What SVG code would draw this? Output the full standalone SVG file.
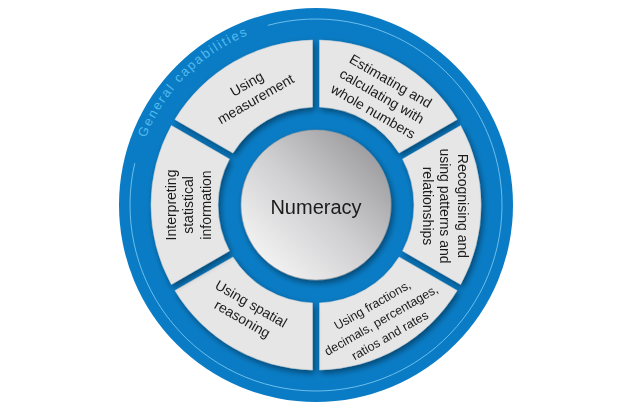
<svg xmlns="http://www.w3.org/2000/svg" xmlns:xlink="http://www.w3.org/1999/xlink" width="641" height="410" viewBox="0 0 641 410">
  <defs>
    <style>
      .seg { fill: #e6e6e6; stroke: #cfcfcf; stroke-width: 0.5; }
      .lbl { font-family: "Liberation Sans", Arial, sans-serif; font-size: 14px; fill: #1a1a1a; text-anchor: middle; }
      .small { font-size: 12.5px; }
      .title { font-family: "Liberation Sans", Arial, sans-serif; font-size: 20px; fill: #1a1a1a; text-anchor: middle; }
      .gc { font-family: "Liberation Sans", Arial, sans-serif; font-size: 13px; fill: #52bbed; letter-spacing: 1.8px; }
    </style>
    <filter id="sh" x="-20%" y="-20%" width="140%" height="140%">
      <feGaussianBlur in="SourceAlpha" stdDeviation="3"/>
      <feOffset dx="2" dy="3" result="b"/>
      <feComponentTransfer><feFuncA type="linear" slope="0.45"/></feComponentTransfer>
      <feMerge><feMergeNode/><feMergeNode in="SourceGraphic"/></feMerge>
    </filter>
    <linearGradient id="core" x1="1" y1="0" x2="0" y2="1">
      <stop offset="0" stop-color="#8c8c90"/>
      <stop offset="0.5" stop-color="#cfcfd1"/>
      <stop offset="1" stop-color="#ffffff"/>
    </linearGradient>
    <path id="gcPath" d="M145.73,137.93 A183,183 0 0,1 300.05,22.70"/>
  </defs>

  <g id="ring">
    <circle cx="316" cy="205" r="197" fill="#0a7cc5"/>
    <path d="M267.86,25.34 A186,186 0 1,1 134.77,163.16" fill="none" stroke="#7cc9f2" stroke-width="1" opacity="0.85"/>
    <text class="gc"><textPath href="#gcPath" xlink:href="#gcPath">General capabilities</textPath></text>
  </g>

  <g id="connectors"></g>

  <g id="seg-measurement" filter="url(#sh)">
    <path class="seg" d="M312.5,40.04 A165,165 0 0,0 174.89,119.49 L232.93,153 A98,98 0 0,1 312.5,107.06 Z"/>
    <g transform="translate(251,91) rotate(-30)">
      <text class="lbl" x="0" y="-3.5">Using</text>
      <text class="lbl" x="0" y="14">measurement</text>
    </g>
  </g>

  <g id="seg-estimating" filter="url(#sh)">
    <path class="seg" d="M319.5,40.04 A165,165 0 0,1 457.11,119.49 L399.07,153 A98,98 0 0,0 319.5,107.06 Z"/>
    <g transform="translate(382,96) rotate(30)">
      <text class="lbl" x="0" y="-12.5">Estimating and</text>
      <text class="lbl" x="0" y="5">calculating with</text>
      <text class="lbl" x="0" y="22.5">whole numbers</text>
    </g>
  </g>

  <g id="seg-recognising" filter="url(#sh)">
    <path class="seg" d="M460.61,125.55 A165,165 0 0,1 460.61,284.45 L402.57,250.94 A98,98 0 0,0 402.57,159.06 Z"/>
    <g transform="translate(445,206) rotate(90)">
      <text class="lbl" x="0" y="-12.5">Recognising and</text>
      <text class="lbl" x="0" y="5">using patterns and</text>
      <text class="lbl" x="0" y="22.5">relationships</text>
    </g>
  </g>

  <g id="seg-fractions" filter="url(#sh)">
    <path class="seg" d="M457.11,290.51 A165,165 0 0,1 319.5,369.96 L319.5,302.94 A98,98 0 0,0 399.07,257 Z"/>
    <g transform="translate(381,320) rotate(-30)">
      <text class="lbl small" x="0" y="-13">Using fractions,</text>
      <text class="lbl small" x="0" y="4.5">decimals, percentages,</text>
      <text class="lbl small" x="0" y="22">ratios and rates</text>
    </g>
  </g>

  <g id="seg-spatial" filter="url(#sh)">
    <path class="seg" d="M312.5,369.96 A165,165 0 0,1 174.89,290.51 L232.93,257 A98,98 0 0,0 312.5,302.94 Z"/>
    <g transform="translate(247,311) rotate(30)">
      <text class="lbl" x="0" y="-3.5">Using spatial</text>
      <text class="lbl" x="0" y="14">reasoning</text>
    </g>
  </g>

  <g id="seg-interpreting" filter="url(#sh)">
    <path class="seg" d="M171.39,284.45 A165,165 0 0,1 171.39,125.55 L229.43,159.06 A98,98 0 0,0 229.43,250.94 Z"/>
    <g transform="translate(188,205) rotate(-90)">
      <text class="lbl" x="0" y="-12.5">Interpreting</text>
      <text class="lbl" x="0" y="5">statistical</text>
      <text class="lbl" x="0" y="22.5">information</text>
    </g>
  </g>

  <g id="core-node" filter="url(#sh)">
    <circle cx="316" cy="205" r="75" fill="url(#core)" stroke="#9a9a9a" stroke-width="0.6"/>
    <text class="title" x="316" y="214">Numeracy</text>
  </g>
</svg>
